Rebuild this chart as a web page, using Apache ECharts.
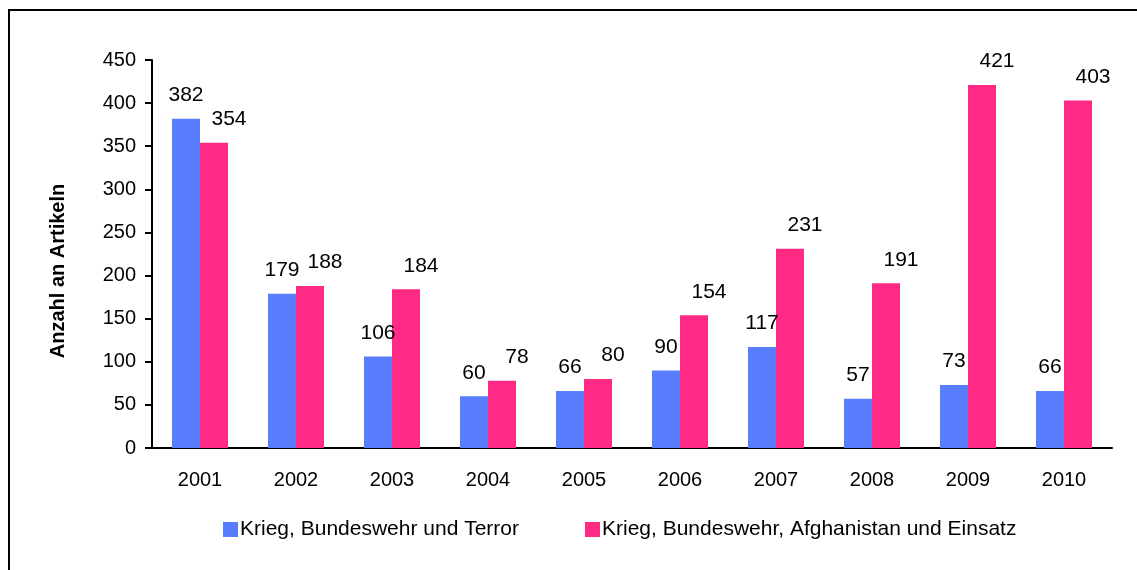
<!DOCTYPE html>
<html lang="de">
<head>
    <meta charset="UTF-8">
    <title>Anzahl an Artikeln 2001-2010</title>
    <script src="https://cdn.jsdelivr.net/npm/echarts@6/dist/echarts.min.js"></script>
    <style>
        html, body {
            margin: 0;
            padding: 0;
            background: #ffffff;
        }

        #chart {
            width: 1137px;
            height: 570px;
        }
    </style>
</head>
<body>
    <div id="chart"></div>

    <script>
        // Daten
        var jahre = ['2001', '2002', '2003', '2004', '2005', '2006', '2007', '2008', '2009', '2010'];
        var kriegTerror = [382, 179, 106, 60, 66, 90, 117, 57, 73, 66];
        var kriegAfghanistan = [354, 188, 184, 78, 80, 154, 231, 191, 421, 403];
        var serienNamen = ['Krieg, Bundeswehr und Terror', 'Krieg, Bundeswehr, Afghanistan und Einsatz'];

        var schrift = '"Liberation Sans", Arial, sans-serif';

        var chart = echarts.init(document.getElementById('chart'));

        var option = {
            animation: false,
            textStyle: { fontFamily: schrift },
            graphic: [
                {
                    type: 'polyline',
                    shape: { points: [[9, 570], [9, 10], [1137, 10]] },
                    style: { stroke: '#000', lineWidth: 2, fill: null }
                }
            ],
            legend: {
                left: 218,
                top: 514,
                itemWidth: 15,
                itemHeight: 15,
                itemGap: 66,
                icon: 'rect',
                textStyle: { fontSize: 21, color: '#000', fontFamily: schrift, padding: [0, 0, 0, -3] },
                data: serienNamen
            },
            grid: {
                left: 152,
                right: 25,
                top: 60,
                bottom: 122
            },
            xAxis: {
                type: 'category',
                data: jahre,
                axisLine: { lineStyle: { color: '#000', width: 2 } },
                axisTick: { length: 7, lineStyle: { color: '#000', width: 2 } },
                axisLabel: { color: '#000', fontSize: 20, margin: 22 }
            },
            yAxis: {
                type: 'value',
                min: 0,
                max: 450,
                interval: 50,
                name: 'Anzahl an Artikeln',
                nameLocation: 'middle',
                nameGap: 84,
                nameTextStyle: { fontSize: 20, fontWeight: 'bold', color: '#000', padding: [0, 34, 0, 0] },
                axisLine: { show: true, lineStyle: { color: '#000', width: 2 } },
                axisTick: { show: true, length: 7, lineStyle: { color: '#000', width: 2 } },
                axisLabel: { color: '#000', fontSize: 20, margin: 16 },
                splitLine: { show: false }
            },
            series: [
                {
                    name: serienNamen[0],
                    type: 'bar',
                    data: kriegTerror,
                    barWidth: 28,
                    barGap: '0%',
                    itemStyle: { color: '#587dff' },
                    label: {
                        show: true,
                        position: 'top',
                        distance: 13,
                        fontSize: 21,
                        color: '#000'
                    }
                },
                {
                    name: serienNamen[1],
                    type: 'bar',
                    data: kriegAfghanistan,
                    barWidth: 28,
                    barGap: '0%',
                    itemStyle: { color: '#ff2a84' },
                    label: {
                        show: true,
                        position: 'top',
                        distance: 13,
                        offset: [15, 0],
                        fontSize: 21,
                        color: '#000'
                    }
                }
            ]
        };

        chart.setOption(option);
    </script>
</body>
</html>
